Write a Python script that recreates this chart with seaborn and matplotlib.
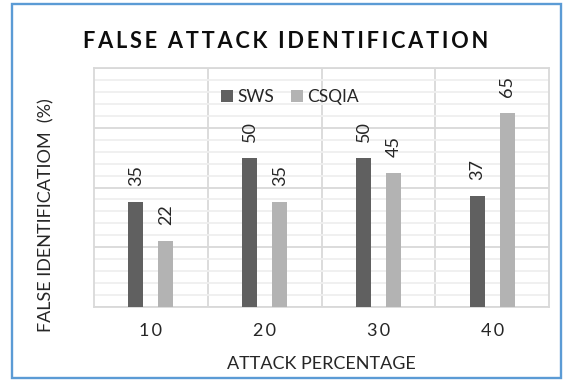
import matplotlib
matplotlib.use("Agg")
import matplotlib.pyplot as plt
from matplotlib.patches import Rectangle
from matplotlib.ticker import MultipleLocator, FixedLocator
import pandas as pd
import seaborn as sns

# Data
attack_pct = ["10", "20", "30", "40"]
sws = [35, 50, 50, 37]
csqia = [22, 35, 45, 65]
series_names = ["SWS", "CSQIA"]
series_colors = ["#606060", "#b3b3b3"]

df = pd.DataFrame({
    "attack": attack_pct * 2,
    "value": sws + csqia,
    "method": [series_names[0]] * len(sws) + [series_names[1]] * len(csqia),
})

HAIR = "\u200a"


def spaced(s, n=1):
    """Widen letter spacing by putting hair spaces between characters."""
    return (HAIR * n).join(s)


sns.set_theme(style="white")
plt.rcParams["font.family"] = ["Lato", "DejaVu Sans"]
plt.rcParams["text.color"] = "#262626"

fig = plt.figure(figsize=(5.63, 3.81), dpi=100)
ax = fig.add_axes([0.167, 0.195, 0.8087, 0.6257])

sns.barplot(data=df, x="attack", y="value", hue="method", order=attack_pct,
            hue_order=series_names, palette=series_colors, width=0.528, gap=0.5,
            saturation=1, edgecolor="none", ax=ax, zorder=3)

ax.set_ylim(0, 80)
ax.set_xlim(-0.5, len(attack_pct) - 0.5)

# grid: major / minor horizontal, category separators vertical
ax.yaxis.set_major_locator(MultipleLocator(20))
ax.yaxis.set_minor_locator(MultipleLocator(4))
ax.xaxis.set_minor_locator(FixedLocator([0.5, 1.5, 2.5]))
ax.grid(which="minor", axis="y", color="#efefef", lw=1.3, zorder=0)
ax.grid(which="major", axis="y", color="#d9d9d9", lw=1.3, zorder=1)
ax.grid(which="minor", axis="x", color="#d9d9d9", lw=1.3, zorder=1)
ax.set_axisbelow(True)
ax.set_yticklabels([])
ax.set_xticks(range(len(attack_pct)))
ax.set_xticklabels([spaced(t, 2) for t in attack_pct])
ax.tick_params(which="both", length=0)
ax.tick_params(axis="x", labelsize=13, pad=12, labelcolor="#262626")
for s in ax.spines.values():
    s.set_color("#d9d9d9")
    s.set_linewidth(1.3)

for cont in ax.containers:
    ax.bar_label(cont, rotation=90, padding=11.5, fontsize=13, color="#262626")

ax.set_xlabel("ATTACK PERCENTAGE", fontsize=13, labelpad=12)
ax.set_ylabel("FALSE IDENTIFICATIOM  (%)", fontsize=13)
ax.yaxis.set_label_coords(-0.088, 0.385)

leg = ax.legend(loc="center", bbox_to_anchor=(0.43, 0.881), ncol=2, frameon=False,
                fontsize=12.5, handlelength=0.7, handleheight=0.7, handletextpad=0.2,
                columnspacing=1.0)

fig.text(0.508, 1 - 41 / 381, spaced("FALSE ATTACK IDENTIFICATION", 2), ha="center",
         va="center", fontsize=15.7, fontweight="bold", color="#0d0d0d")

fig.patches.append(Rectangle((12 / 563, 3 / 381), 549 / 563, 374 / 381,
                             transform=fig.transFigure, fill=False,
                             edgecolor="#5b9bd5", lw=1.7))

fig.savefig("out.png", dpi=100)
